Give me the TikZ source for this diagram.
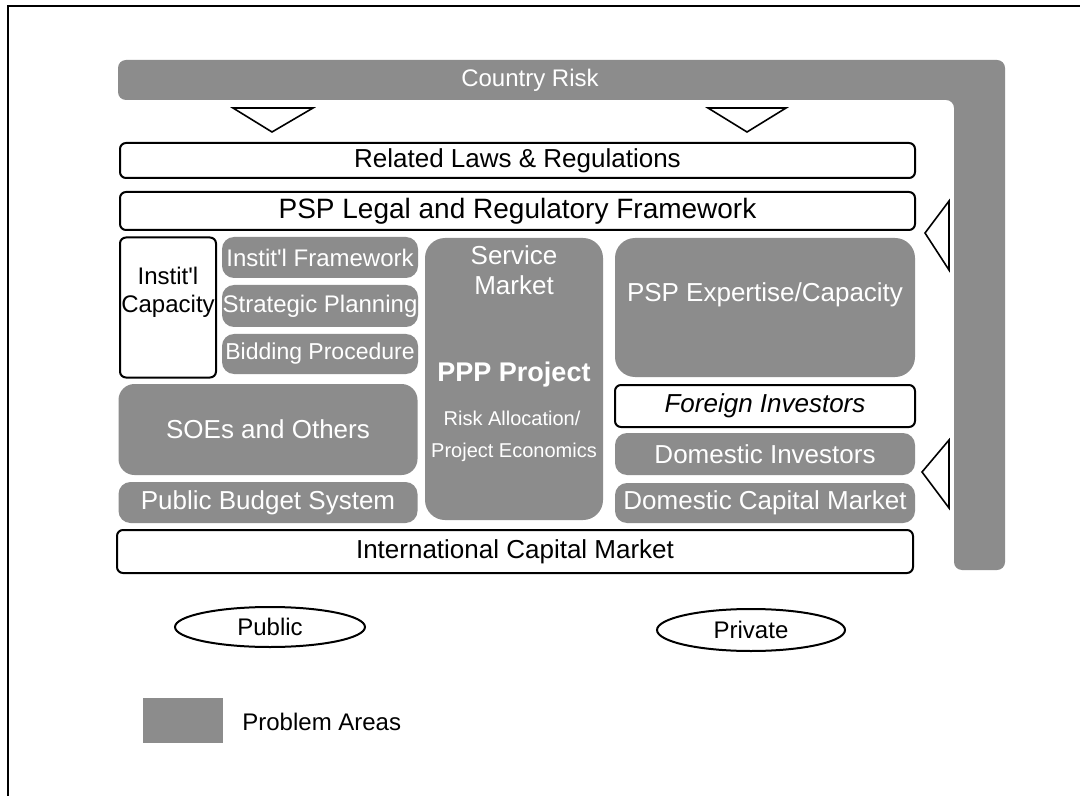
\documentclass[tikz,border=0pt]{standalone}
\usepackage{fontspec}
\setmainfont{Liberation Sans}
\usetikzlibrary{shapes.geometric}

\newcommand\titlefont{\fontsize{14}{16}\selectfont}
\newcommand\lblfont{\fontsize{13}{15}\selectfont}
\newcommand\subfont{\fontsize{12}{14}\selectfont}
\newcommand\notefont{\fontsize{10}{12}\selectfont}

\begin{document}
\begin{tikzpicture}[x=0.5pt, y=-0.5pt,
  whitebox/.style={draw, line width=1pt, fill=white, rounded corners=3pt, inner sep=0pt},
  graybox/.style={fill=black!45, rounded corners=6pt, inner sep=0pt, text=white},
  tri/.style={draw, fill=white, line width=0.8pt, line join=miter}]

  \useasboundingbox (0,0) rectangle (1080,796);
  \fill[white] (0,0) rectangle (1080,796);

  % outer frame (only top and left edges are visible)
  \draw[line width=1pt] (8,796) -- (8,6) -- (1080,6);

  % Country risk band across the top and down the right side
  \fill[black!45, rounded corners=4pt]
    (118,60) -- (1005,60) -- (1005,570) -- (954,570) -- (954,100) -- (118,100) -- cycle;
  \node[font=\subfont, text=white] (risk) at (530,80) {Country Risk};

  % pointers from the risk band
  \draw[tri] (233,108) -- (313,108) -- (272,132) -- cycle;
  \draw[tri] (708,108) -- (786,108) -- (747,132) -- cycle;
  \draw[tri] (949,201) -- (949,270) -- (925,233) -- cycle;
  \draw[tri] (949,440) -- (949,508) -- (922,472) -- cycle;

  % framework rows
  \node[whitebox, minimum width=397.5pt, minimum height=17.5pt, font=\lblfont]
    (laws) at (517.5,160.5) {Related Laws \& Regulations};
  \node[whitebox, minimum width=397.5pt, minimum height=19pt, font=\titlefont]
    (pspfw) at (517.5,211) {PSP Legal and Regulatory Framework};

  % public side
  \node[whitebox, minimum width=48pt, minimum height=70pt] (capacity) at (168,307.5) {};
  \node[align=center, font=\subfont, inner sep=0pt] (capacitytxt) at (168,292) {Instit\textquotesingle l\\Capacity};
  \node[graybox, minimum width=98pt, minimum height=20.5pt, font=\subfont]
    (instfw) at (320,257.5) {Instit\textquotesingle l Framework};
  \node[graybox, minimum width=98pt, minimum height=21pt, font=\subfont]
    (strategic) at (320,306) {Strategic Planning};
  \node[graybox, minimum width=98pt, minimum height=20pt, font=\fontsize{11.5}{13}\selectfont]
    (bidding) at (320,354) {Bidding Procedure};
  \node[graybox, minimum width=149.5pt, minimum height=45.5pt, rounded corners=8pt, font=\lblfont]
    (soes) at (268,429.5) {SOEs and Others};
  \node[graybox, minimum width=149.5pt, minimum height=20.5pt, font=\lblfont]
    (budget) at (268,502.5) {Public Budget System};

  % the project in the middle
  \node[graybox, minimum width=89pt, minimum height=141pt, rounded corners=10pt] (ppp) at (514,379) {};
  \node[align=center, font=\lblfont, text=white] (service) at (514,270) {Service\\Market};
  \node[font=\fontsize{13.5}{15}\selectfont\bfseries, text=white] (pppname) at (514,375) {PPP Project};
  \node[font=\notefont, text=white] (riskalloc) at (512,418) {Risk Allocation/};
  \node[font=\notefont, text=white] (economics) at (514,452) {Project Economics};

  % private side
  \node[graybox, minimum width=150pt, minimum height=69.5pt, rounded corners=10pt] (expertise) at (765,307.5) {};
  \node[font=\lblfont, text=white] (expertisetxt) at (765,295) {PSP Expertise/Capacity};
  \node[whitebox, minimum width=150pt, minimum height=21pt, font=\lblfont\itshape]
    (foreign) at (765,406) {Foreign Investors};
  \node[graybox, minimum width=150pt, minimum height=21pt, font=\lblfont]
    (domestic) at (765,454) {Domestic Investors};
  \node[graybox, minimum width=150pt, minimum height=20pt, font=\lblfont]
    (domcap) at (765,503) {Domestic Capital Market};

  \node[whitebox, minimum width=398pt, minimum height=21.5pt, font=\lblfont]
    (intl) at (515,551.5) {International Capital Market};

  % sector labels
  \node[ellipse, draw, line width=1pt, minimum width=95pt, minimum height=20pt, inner sep=0pt, font=\subfont]
    (public) at (270,627) {Public};
  \node[ellipse, draw, line width=1pt, minimum width=94pt, minimum height=21pt, inner sep=0pt, font=\subfont]
    (private) at (751,630) {Private};

  % legend
  \node[fill=black!45, minimum width=40pt, minimum height=22.5pt, inner sep=0pt] (legend) at (183,720.5) {};
  \node[anchor=west, font=\subfont, inner sep=0pt] (problem) at (242,722) {Problem Areas};

\end{tikzpicture}
\end{document}
